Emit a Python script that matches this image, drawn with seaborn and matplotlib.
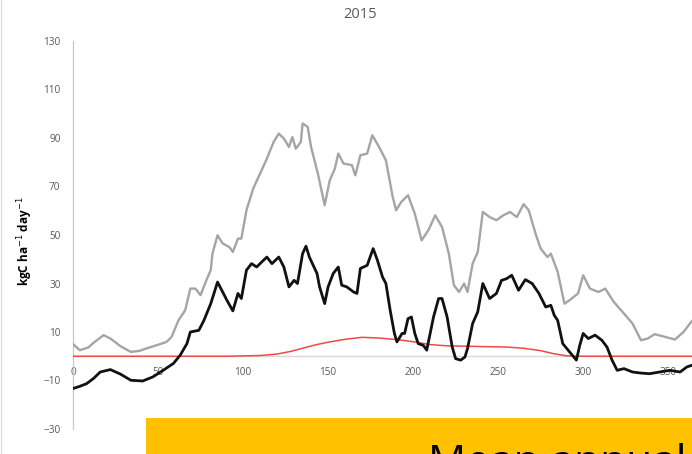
import matplotlib
matplotlib.use("Agg")
import matplotlib.pyplot as plt
import seaborn as sns
import pandas as pd
from matplotlib.patches import Rectangle
from matplotlib.lines import Line2D

# Daily carbon fluxes, 2015 (kgC ha-1 day-1)
gray_day = [0, 4, 9, 12, 18, 22, 28, 34, 39, 43, 49, 55, 58, 62, 66, 69, 72, 75, 78, 81,
            82, 85, 88, 92, 94, 97, 99, 102, 106, 110, 114, 118, 121, 124, 127, 129, 131,
            134, 135, 138, 140, 144, 148, 151, 154, 156, 159, 164, 166, 169, 173, 176, 180,
            184, 188, 190, 193, 197, 201, 205, 209, 213, 217, 221, 224, 227, 230, 232, 235,
            238, 241, 245, 249, 253, 257, 261, 265, 268, 272, 275, 279, 281, 285, 289, 292,
            297, 300, 304, 309, 313, 318, 324, 329, 334, 338, 342, 347, 354, 359, 364]
gray_val = [5.0, 2.5, 3.6, 5.5, 8.7, 7.3, 4.1, 1.8, 2.2, 3.2, 4.5, 5.9, 8.0, 14.8, 19.0,
            27.9, 27.9, 25.2, 30.6, 35.5, 42.3, 49.9, 46.5, 45.0, 43.0, 48.5, 48.5, 60.2,
            69.2, 75.3, 81.5, 88.4, 91.8, 89.8, 86.3, 90.4, 85.6, 88.4, 96.0, 94.6, 86.3,
            75.3, 62.3, 72.6, 77.4, 83.6, 79.5, 78.8, 74.6, 82.9, 83.6, 91.1, 86.3, 80.8,
            65.7, 60.2, 63.6, 66.4, 58.8, 47.8, 52.0, 58.1, 53.3, 42.3, 29.3, 26.5, 30.0,
            26.5, 38.2, 43.0, 59.5, 57.4, 56.1, 58.1, 59.5, 57.4, 62.7, 60.2, 50.6, 44.4,
            40.9, 42.3, 34.8, 21.7, 23.1, 25.9, 33.4, 27.9, 26.5, 27.9, 22.4, 17.6, 13.5,
            6.6, 7.3, 9.1, 8.2, 6.9, 10.0, 14.6]

black_day = [0, 4, 8, 12, 16, 22, 28, 34, 41, 47, 53, 59, 63, 67, 69, 74, 77, 81, 85, 88,
             90.5, 94, 97, 99, 102, 105, 108, 111, 114, 117, 121, 124, 127, 130, 132, 135,
             137, 139, 143.5, 145, 148, 150, 153, 156, 158, 161, 165, 167, 169, 173, 176.5,
             179, 182, 184, 186.5, 189, 190.5, 193.5, 195, 197, 199, 201, 203, 206, 208,
             212, 215, 217, 220, 223, 225, 228, 230.5, 232, 235, 238, 241, 245, 249, 252,
             255, 258, 262, 266, 270, 274, 278, 281, 283, 285, 288, 292, 296, 298, 300,
             303, 307, 311, 314, 317, 320, 324, 329, 333.5, 339, 345, 351, 357, 361, 364]
black_val = [-13.3, -12.4, -11.3, -9.2, -6.5, -5.5, -7.4, -9.9, -10.2, -8.5, -5.8, -3.0,
             0.4, 5.2, 10.0, 10.7, 14.8, 21.7, 30.6, 26.5, 23.1, 18.7, 25.9, 23.8, 35.5,
             38.2, 36.8, 38.9, 40.9, 38.2, 40.9, 36.8, 28.6, 31.3, 30.0, 42.3, 45.4, 40.9,
             34.1, 28.6, 21.7, 28.6, 34.1, 36.8, 29.3, 28.6, 26.5, 25.9, 36.2, 37.5, 44.4,
             39.6, 32.7, 30.0, 19.0, 9.4, 5.9, 9.4, 9.4, 15.5, 16.2, 9.4, 5.2, 4.5, 2.5,
             16.2, 23.8, 23.8, 16.2, 3.8, -1.0, -1.6, -0.3, 3.2, 13.5, 18.3, 30.0, 23.8,
             25.9, 31.3, 32.0, 33.4, 27.2, 31.6, 30.0, 25.9, 20.3, 21.0, 16.9, 14.8, 5.2,
             1.8, -1.6, 4.5, 9.4, 7.3, 8.7, 6.6, 3.8, -1.6, -5.8, -5.1, -6.5, -6.9, -7.2,
             -6.5, -5.8, -6.5, -4.4, -3.7]

red_day = [0, 90, 110, 120, 128, 135, 142, 150, 160, 170, 180, 190, 200, 210, 220, 240,
           255, 265, 275, 283, 290, 300, 364]
red_val = [0.0, 0.0, 0.3, 0.9, 2.0, 3.3, 4.6, 5.8, 7.0, 7.8, 7.5, 6.9, 6.0, 4.8, 4.3, 4.0,
           3.8, 3.3, 2.3, 1.0, 0.2, 0.0, 0.0]

x_ticks = [0, 50, 100, 150, 200, 250, 300, 350]
y_ticks = [-30, -10, 10, 30, 50, 70, 90, 110, 130]

sns.set_style("white")
plt.rcParams["font.family"] = ["Open Sans", "DejaVu Sans"]

fig = plt.figure(figsize=(6.92, 4.54), dpi=100)
ax = fig.add_axes([73 / 692, 25 / 454, 1 - 73 / 692, 388 / 454])

gray_df = pd.DataFrame({"day": gray_day, "flux": gray_val})
black_df = pd.DataFrame({"day": black_day, "flux": black_val})
red_df = pd.DataFrame({"day": red_day, "flux": red_val})

sns.lineplot(data=red_df, x="day", y="flux", ax=ax, color="#f24848", linewidth=1.1,
             zorder=3)
sns.lineplot(data=gray_df, x="day", y="flux", ax=ax, color="#a5a5a5", linewidth=1.7,
             zorder=4)
sns.lineplot(data=black_df, x="day", y="flux", ax=ax, color="#111111", linewidth=2.0,
             zorder=5)

ax.set_xlim(0, 364)
ax.set_ylim(-30, 130)
ax.set_xticks(x_ticks)
ax.set_yticks(y_ticks)
ax.set_xlabel("")
ax.set_ylabel("kgC ha$^{-1}$ day$^{-1}$", fontsize=8.5, fontweight="bold",
              color="#000000")
ax.yaxis.set_label_coords(-0.062, 0.485)

for side in ("top", "right"):
    ax.spines[side].set_visible(False)
ax.spines["left"].set_color("#c8c8c8")
ax.spines["left"].set_linewidth(0.9)
ax.spines["bottom"].set_position(("data", 0))
ax.spines["bottom"].set_color("#d9d9d9")
ax.spines["bottom"].set_linewidth(1.0)
ax.spines["bottom"].set_zorder(2)

ax.tick_params(axis="both", length=0, labelsize=7.2, labelcolor="#595959")
ax.tick_params(axis="y", pad=9)
ax.tick_params(axis="x", pad=8)

fig.text(360 / 692, 1 - 14 / 454, "2015", ha="center", va="center",
         fontsize=10.5, color="#595959")

# chart border on the left
fig.add_artist(Line2D([1 / 692, 1 / 692], [0, 1], transform=fig.transFigure,
                      color="#d9d9d9", linewidth=0.8))

# caption banner
fig.add_artist(Rectangle((146 / 692, 0), 1 - 146 / 692, 36 / 454,
                         transform=fig.transFigure, facecolor="#ffc000",
                         edgecolor="none", zorder=10))
fig.text(428 / 692, 1 - 443 / 454, "Mean annual", ha="left", va="top",
         fontsize=30.5, color="#000000", zorder=11)

fig.savefig("out.png", dpi=100)
